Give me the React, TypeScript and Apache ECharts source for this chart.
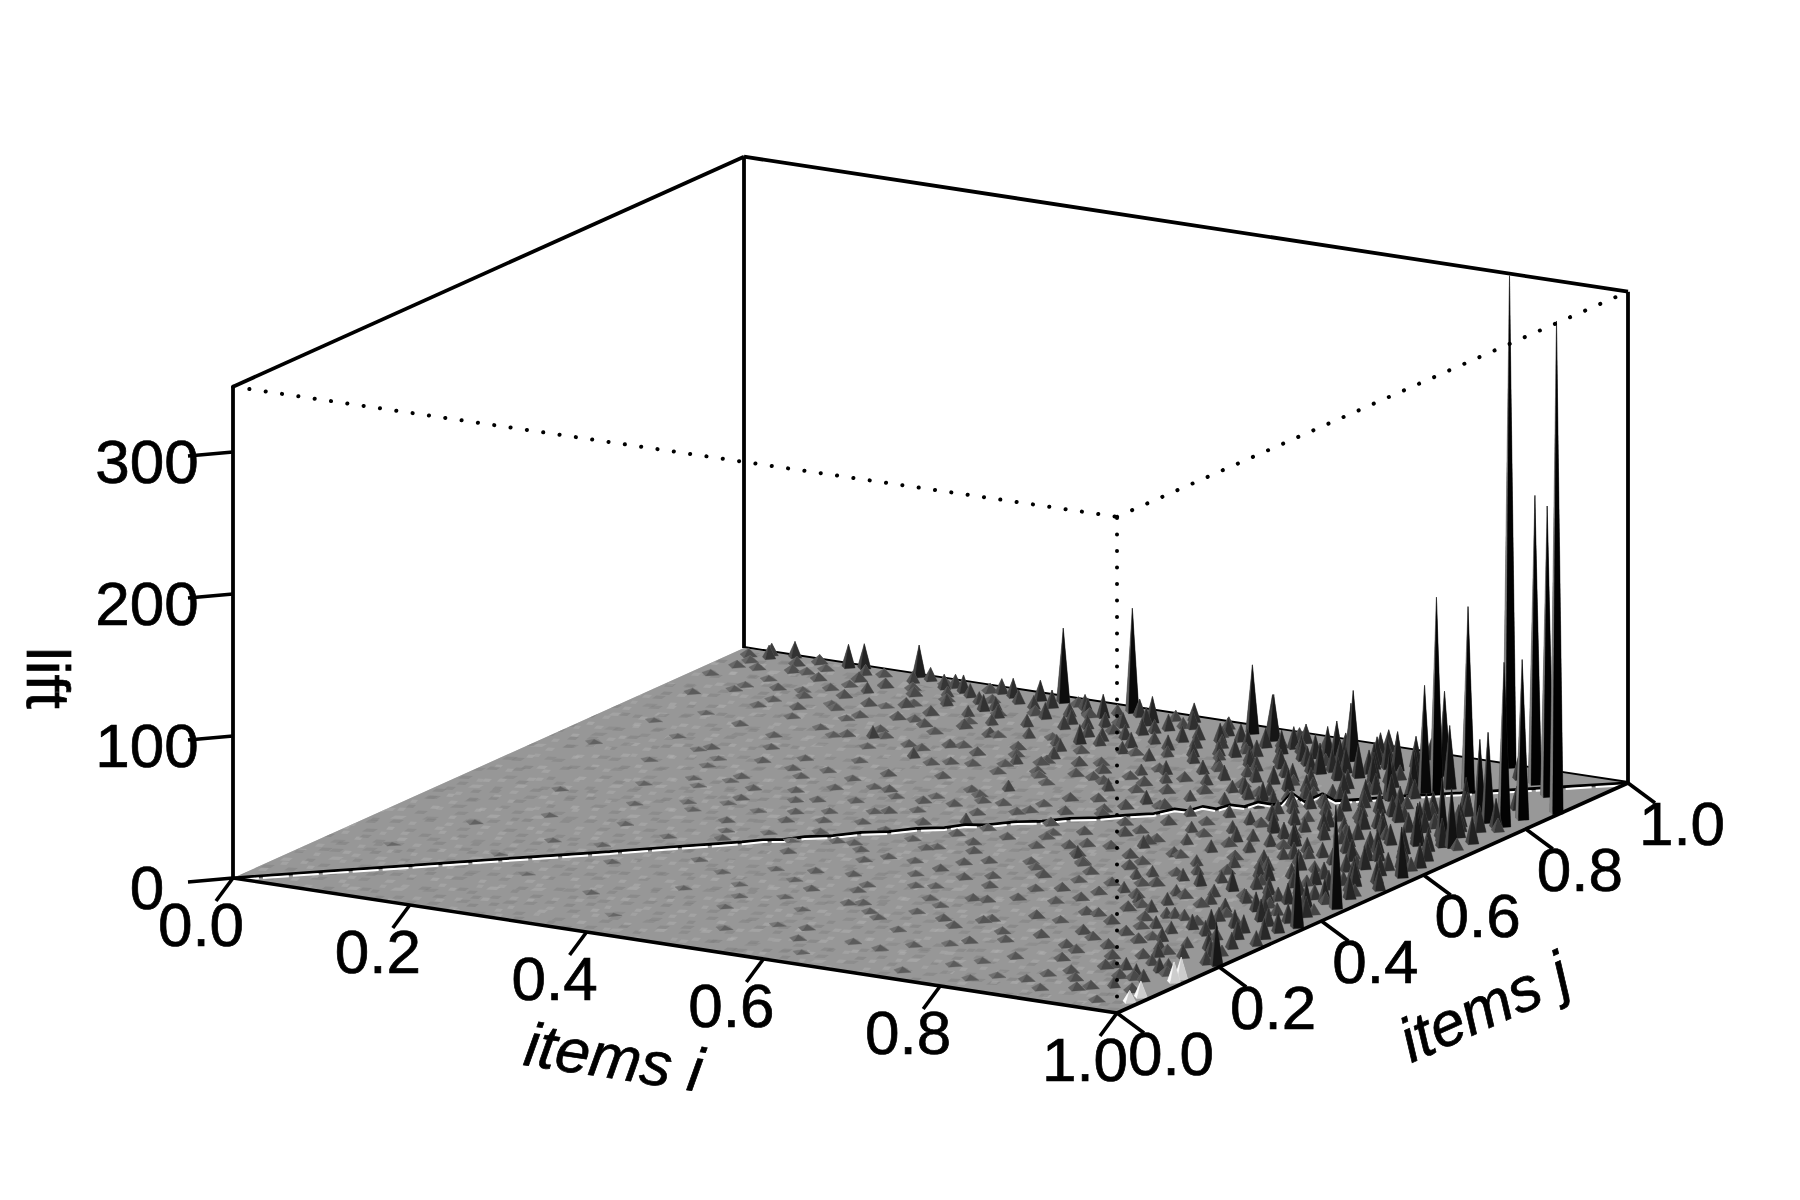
import React, { useEffect, useRef } from "react";
import * as echarts from "echarts";

type Row = number[];

const iTicks = [0, 0.2, 0.4, 0.6, 0.8, 1];
const jTicks = [0, 0.2, 0.4, 0.6, 0.8, 1];
const zTicks = [0, 100, 200, 300];
const zTop = 346;

// i, j, lift : tall spikes
const spikesTall: Row[] = [
  [.870,.993,346],[.996,.867,346],[.923,.951,203],[.956,.918,204],[.978,.831,112],[.976,.799,115],
  [.855,.876,137],[.878,.898,129],[.845,.870,75],[.830,.935,59],[.859,.895,44],[.955,.804,63],
  [.948,.800,58],[.971,.705,41],[.954,.716,45],[.448,.985,73],[.371,.983,52],[.589,.976,48],
  [.606,.986,27],[.725,.938,49],[.723,.937,40],[.991,.368,52],[.988,.449,72],[.985,.583,35],
  [.994,.205,30],[.779,.931,25],[.832,.871,27],[.938,.694,27],[.915,.828,14],
];

// i, j, lift : middle-sized cones
const spikesMid: Row[] = [
  [.983,.204,9],[.920,.323,13],[.975,.268,11],[.984,.316,14],[.984,.343,14],[.963,.360,12],[.919,.435,12],
  [.865,.512,11],[.924,.447,9],[.967,.428,20],[.974,.380,13],[.830,.457,11],[.806,.465,8],[.867,.456,14],
  [.789,.672,14],[.835,.634,15],[.711,.552,8],[.763,.448,7],[.821,.244,6],[.869,.340,7],[.862,.336,7],
  [.869,.210,6],[.917,.195,6],[.670,.494,6],[.620,.964,32],[.651,.926,16],[.682,.913,15],[.695,.900,13],
  [.699,.933,22],[.707,.937,26],[.721,.880,21],[.741,.896,18],[.761,.886,23],[.785,.873,19],[.769,.929,21],
  [.781,.928,27],[.815,.904,21],[.914,.832,23],[.935,.701,28],[.885,.719,16],[.849,.738,11],[.831,.697,13],
  [.826,.737,11],[.834,.633,15],[.793,.665,14],[.934,.626,14],[.695,.778,11],[.724,.763,13],[.747,.821,9],
  [.777,.808,9],[.641,.881,11],[.726,.809,15],[.701,.824,12],[.201,.995,22],[.124,.990,16],[.139,.995,17],
  [.040,.980,9],[.060,.996,11],[.092,.989,6],[.036,.992,8],[.268,.966,12],[.319,.975,13],[.348,.978,14],
  [.371,.961,12],[.416,.953,12],[.433,.954,16],[.484,.962,18],[.484,.950,12],[.319,.917,11],[.278,.916,8],
  [.207,.973,8],[.187,.918,7],[.344,.902,9],[.386,.922,11],[.459,.825,8],[.462,.858,13],[.440,.911,9],
  [.468,.797,8],[.446,.762,7],[.276,.775,8],[.348,.730,7],[.490,.670,7],[.574,.720,8],[.631,.696,9],
  [.516,.542,7],[.674,.487,8],[.555,.930,10],[.530,.962,12],[.640,.945,9],[.680,.965,11],[.755,.955,13],
  [.810,.960,15],[.900,.960,18],[.955,.860,16],[.965,.770,18],[.948,.762,14],[.930,.790,12],[.905,.735,13],
  [.975,.650,16],[.960,.600,12],[.945,.560,14],[.990,.530,15],[.968,.510,11],[.952,.470,10],[.990,.290,10],
  [.945,.290,8],[.935,.250,7],[.960,.170,7],[.900,.385,9],[.880,.610,10],[.905,.660,12],[.870,.665,9],
  [.850,.585,8],[.815,.620,9],[.760,.730,9],[.790,.770,10],[.745,.775,8],[.665,.835,8],[.610,.875,7],
  [.560,.860,7],[.525,.895,8],[.590,.915,9],[.505,.930,9],
];

// i, j, lift : second population of cones, denser toward the right of the surface
const cones: Row[] = [
  [.972,.232,11],[.951,.214,9],[.938,.176,7],[.905,.142,6],[.962,.118,8],[.948,.084,7],[.921,.058,5],[.884,.111,5],[.853,.147,5],[.892,.178,6],
  [.918,.226,8],[.884,.243,6],[.859,.262,6],[.826,.291,6],[.895,.288,8],[.928,.298,10],[.955,.326,12],[.912,.352,9],[.881,.338,7],[.848,.318,6],
  [.815,.342,6],[.787,.309,5],[.756,.352,5],[.722,.374,5],[.798,.388,6],[.838,.379,8],[.873,.403,8],[.941,.392,12],[.978,.408,14],[.958,.442,13],
  [.931,.476,12],[.901,.424,9],[.862,.429,8],[.828,.414,7],[.793,.436,6],[.754,.416,5],[.715,.442,5],[.681,.408,5],[.645,.446,4],[.608,.428,4],
  [.577,.452,4],[.692,.466,5],[.738,.478,6],[.772,.464,7],[.806,.493,7],[.842,.478,8],[.884,.474,10],[.912,.498,11],[.946,.508,13],[.981,.488,16],
  [.975,.552,15],[.956,.536,13],[.921,.542,11],[.893,.527,10],[.858,.541,9],[.824,.534,8],[.789,.521,7],[.752,.541,6],[.718,.514,6],[.684,.535,5],
  [.648,.516,5],[.612,.534,4],[.579,.514,4],[.546,.533,4],[.635,.568,5],[.672,.583,6],[.707,.568,6],[.741,.585,7],[.776,.572,8],[.808,.591,8],
  [.842,.561,9],[.873,.575,10],[.902,.592,11],[.927,.575,12],[.963,.579,14],[.982,.624,17],[.952,.642,15],[.924,.622,13],[.892,.636,12],[.858,.618,10],
  [.826,.648,9],[.791,.628,8],[.758,.645,8],[.722,.627,7],[.688,.641,6],[.652,.618,5],[.616,.636,5],[.581,.624,5],[.548,.639,4],[.512,.622,4],
  [.476,.638,4],[.585,.682,5],[.622,.671,6],[.654,.692,6],[.691,.678,7],[.726,.694,8],[.757,.681,9],[.817,.684,10],[.853,.699,11],[.876,.686,12],
  [.914,.684,14],[.958,.682,16],[.981,.728,19],[.943,.732,16],[.919,.742,15],[.872,.732,13],[.836,.762,11],[.804,.748,10],[.772,.739,10],[.733,.738,9],
  [.698,.733,8],[.662,.728,7],[.628,.742,6],[.594,.756,6],[.556,.742,5],[.519,.752,5],[.482,.741,5],[.448,.722,4],[.412,.735,4],[.375,.718,4],
  [.862,.778,14],[.902,.762,16],[.939,.778,16],[.971,.792,20],[.925,.816,16],[.892,.806,15],[.851,.812,14],[.822,.792,12],[.791,.798,11],[.756,.792,10],
  [.718,.786,9],[.682,.776,8],[.646,.788,8],[.608,.774,7],[.572,.788,7],[.536,.776,6],[.502,.788,6],[.468,.772,5],[.432,.786,5],[.396,.772,5],
  [.358,.784,5],[.322,.766,4],[.286,.782,4],[.251,.768,4],[.215,.778,3],[.842,.848,16],[.806,.842,14],[.772,.846,13],[.735,.838,12],[.698,.852,11],
  [.662,.858,10],[.628,.842,9],[.594,.852,9],[.552,.838,8],[.516,.848,8],[.482,.862,8],[.445,.842,7],[.408,.852,7],[.372,.838,6],[.335,.852,6],
  [.298,.838,5],[.262,.848,5],[.226,.836,4],[.192,.848,4],[.158,.832,4],[.122,.846,3],[.798,.882,15],[.762,.905,16],[.728,.892,15],[.668,.892,11],
  [.635,.905,11],[.602,.888,10],[.568,.902,10],[.492,.895,10],[.456,.885,9],[.421,.898,9],[.385,.888,8],[.352,.876,7],[.316,.892,7],[.282,.878,6],
  [.246,.892,6],[.212,.878,5],[.176,.892,5],[.142,.872,4],[.105,.885,4],[.072,.878,3],[.792,.945,22],[.758,.922,18],[.742,.962,17],[.705,.958,14],
  [.668,.935,13],[.626,.938,13],[.594,.945,12],[.512,.945,11],[.468,.932,10],[.402,.942,9],[.358,.948,9],[.302,.938,8],[.262,.945,7],[.232,.932,6],
  [.192,.945,6],[.158,.952,6],[.122,.935,5],[.085,.948,5],[.028,.938,4],[.018,.978,5],[.076,.972,6],[.152,.975,7],[.218,.988,9],[.252,.978,9],
  [.302,.982,10],[.335,.958,9],[.402,.972,10],[.462,.975,12],[.518,.985,13],[.572,.958,12],[.652,.972,13],[.698,.978,14],[.738,.985,15],[.788,.982,14],
  [.548,.612,4],[.508,.578,4],[.472,.595,4],[.442,.612,3],[.408,.592,3],[.372,.612,3],[.338,.628,3],[.302,.642,3],[.268,.632,3],[.228,.642,3],
  [.186,.628,2],[.152,.648,2],[.452,.558,3],[.418,.532,3],[.382,.558,3],[.348,.542,3],[.312,.562,3],[.272,.548,3],[.238,.562,2],[.202,.552,2],
  [.538,.448,3],[.502,.462,3],[.462,.478,3],[.428,.492,3],[.392,.478,3],[.352,.492,3],[.318,.478,2],[.278,.488,2],[.242,.472,2],[.515,.392,3],
  [.478,.402,3],[.442,.418,3],[.402,.398,2],[.368,.412,2],[.328,.398,2],[.655,.348,4],[.618,.362,4],[.582,.378,4],[.545,.392,3],[.702,.322,4],
  [.665,.298,4],[.628,.278,3],[.592,.312,3],[.552,.268,3],[.518,.318,3],[.478,.272,2],[.442,.298,2],[.402,.262,2],[.752,.272,5],[.715,.232,4],
  [.678,.218,4],[.642,.228,3],[.602,.205,3],[.568,.222,3],[.502,.212,2],[.462,.192,2],[.832,.192,5],[.792,.212,5],[.752,.205,4],[.742,.158,4],
  [.702,.118,3],[.645,.098,3],[.592,.082,3],[.548,.118,2],[.772,.075,3],[.812,.038,3],[.862,.062,4],[.902,.088,5],[.935,.118,6],[.972,.078,6],
];

// i, j, lift : the darker cones packed in the right-hand part of the surface
const conesDark: Row[] = [
  [.962,.302,13],[.938,.338,12],[.905,.312,10],[.948,.372,15],[.925,.402,13],[.968,.462,17],[.938,.442,14],[.905,.462,12],[.878,.508,13],[.925,.518,14],
  [.962,.532,17],[.938,.592,16],[.912,.612,15],[.885,.558,12],[.858,.592,11],[.968,.612,18],[.942,.662,18],[.918,.652,16],[.882,.658,14],[.848,.668,12],
  [.812,.652,11],[.778,.618,10],[.962,.702,20],[.928,.712,18],[.895,.702,15],[.862,.722,14],[.828,.712,13],[.795,.702,12],[.768,.705,11],[.958,.742,20],
  [.898,.782,18],[.878,.762,16],[.845,.782,15],[.812,.772,14],[.778,.762,12],[.742,.752,11],[.708,.762,10],[.832,.828,18],[.812,.812,15],[.778,.828,14],
  [.745,.812,12],[.712,.842,12],[.682,.822,11],[.652,.812,10],[.622,.822,9],[.592,.802,9],[.808,.872,17],[.775,.892,18],[.748,.868,16],[.712,.878,14],
  [.678,.878,13],[.648,.868,12],[.618,.892,12],[.582,.872,11],[.548,.882,10],[.512,.872,10],[.476,.878,9],[.752,.938,19],[.722,.918,17],[.688,.928,16],
  [.652,.948,15],[.615,.922,14],[.578,.932,13],[.545,.915,11],[.498,.918,11],[.452,.925,10],[.418,.918,10],[.328,.925,9],[.282,.955,9],[.245,.968,10],
  [.948,.128,9],[.958,.156,10],[.925,.148,8],[.928,.205,9],[.958,.252,12],[.902,.258,9],[.872,.298,8],[.838,.348,8],[.812,.368,8],[.778,.398,7],
];

// i, j, lift : low bumps scattered over the surface
const bumps: Row[] = [
  [.62,.04,2],[.74,.03,3],[.83,.06,3],[.89,.04,4],[.93,.07,5],[.96,.03,4],[.51,.08,2],[.68,.09,3],[.79,.10,3],[.87,.09,4],
  [.33,.13,2],[.47,.15,2],[.58,.12,3],[.66,.16,3],[.73,.14,3],[.81,.13,4],[.85,.18,5],[.91,.15,5],[.95,.12,6],[.40,.19,2],
  [.54,.18,2],[.62,.19,3],[.70,.20,4],[.77,.18,4],[.29,.24,2],[.44,.23,2],[.51,.25,3],[.58,.23,3],[.65,.26,3],[.72,.24,4],
  [.78,.27,4],[.84,.23,5],[.89,.26,5],[.93,.22,6],[.36,.29,2],[.48,.31,3],[.55,.29,3],[.61,.32,3],[.68,.30,4],[.74,.33,4],
  [.80,.31,5],[.86,.29,5],[.90,.33,6],[.94,.34,7],[.42,.36,3],[.50,.37,3],[.57,.35,3],[.64,.38,4],[.70,.36,4],[.76,.38,5],
  [.82,.36,5],[.87,.39,6],[.91,.37,6],[.95,.40,8],[.46,.42,3],[.53,.44,3],[.59,.41,4],[.66,.43,4],[.72,.41,4],[.78,.43,5],
  [.84,.41,6],[.89,.44,6],[.93,.42,7],[.97,.46,8],[.56,.48,4],[.62,.50,4],[.69,.47,5],[.74,.50,5],[.79,.48,5],[.83,.51,6],
  [.88,.49,7],[.92,.51,7],[.95,.53,9],[.61,.55,4],[.66,.53,5],[.71,.58,5],[.76,.54,5],[.81,.56,6],[.85,.54,7],[.90,.56,7],
  [.93,.59,9],[.68,.60,5],[.74,.62,5],[.78,.60,6],[.83,.62,6],[.87,.60,8],[.91,.62,8],[.96,.63,10],[.72,.66,5],[.77,.68,6],
  [.82,.66,7],[.86,.69,8],[.90,.70,9],[.80,.72,7],[.84,.75,8],[.88,.77,10],[.92,.76,10],[.86,.81,9],[.90,.79,11],[.80,.84,8],
  [.76,.80,7],[.72,.83,7],[.68,.80,6],[.63,.84,6],[.58,.81,5],[.53,.85,5],[.48,.83,5],[.43,.86,4],[.38,.84,4],[.33,.87,4],
  [.28,.85,4],[.23,.88,3],[.18,.86,3],[.13,.89,3],[.08,.91,3],[.05,.94,4],[.10,.95,4],[.16,.93,4],[.22,.95,5],[.27,.93,5],
  [.31,.95,5],[.37,.93,6],[.42,.95,6],[.47,.91,6],[.52,.96,7],[.57,.95,7],[.62,.91,7],[.66,.95,8],[.71,.91,8],[.75,.87,8],
  [.46,.94,6],[.34,.91,5],[.25,.90,4],[.15,.91,4],[.07,.86,3],[.12,.82,3],[.17,.80,3],[.22,.82,3],[.27,.80,4],[.32,.82,4],
  [.37,.79,4],[.42,.81,5],[.47,.78,5],[.52,.80,5],[.57,.77,5],[.62,.79,6],[.66,.76,6],[.71,.78,6],[.60,.73,5],[.54,.75,5],
  [.49,.73,4],[.44,.75,4],[.39,.73,4],[.34,.76,4],[.29,.74,3],[.24,.76,3],[.19,.73,3],[.14,.75,3],[.09,.77,2],[.11,.68,2],
  [.16,.66,3],[.21,.69,3],[.26,.67,3],[.31,.69,3],[.36,.66,4],[.41,.68,4],[.46,.65,4],[.51,.71,4],[.56,.67,5],[.61,.65,5],
  [.65,.69,5],[.13,.59,2],[.19,.60,2],[.24,.58,3],[.29,.61,3],[.34,.59,3],[.39,.61,4],[.44,.59,4],[.49,.62,4],[.54,.60,4],
  [.59,.58,5],[.17,.51,2],[.22,.53,2],[.28,.51,3],[.33,.53,3],[.38,.51,3],[.43,.54,4],[.48,.52,4],[.53,.50,4],[.11,.45,2],
  [.20,.44,2],[.26,.45,2],[.31,.43,3],[.36,.46,3],[.41,.44,3],[.15,.36,2],[.23,.37,2],[.29,.35,2],[.34,.37,3],[.20,.28,2],
  [.25,.29,2],[.10,.30,2],[.07,.19,1],[.18,.21,1],[.24,.16,1],[.39,.07,1],[.05,.62,2],[.06,.72,2],[.04,.83,3],[.02,.90,3],
  [.03,.96,4],[.11,.97,4],[.17,.98,5],[.24,.98,5],[.29,.98,6],[.39,.98,6],[.44,.97,7],[.50,.98,7],[.56,.98,8],[.64,.98,8],
  [.70,.98,9],[.74,.96,9],[.80,.90,10],[.98,.78,9],[.98,.70,8],[.98,.61,9],[.98,.50,8],[.98,.42,7],[.98,.24,7],[.97,.15,6],
];

// i, j, lift : light-coloured cones near the front corner
const litSpikes: Row[] = [[.990,.129,14],[.990,.143,15],[.990,.064,11],[.990,.042,8]];

// t (i = j = t), lift : the diagonal ridge
const ridge: Row[] = [
  [0,0],[.07,.3],[.13,.2],[.2,.5],[.27,.4],[.33,.8],[.365,.9],[.38,1.4],[.395,.7],[.41,1.6],[.43,1],[.45,1.9],[.47,1.2],[.49,2],
  [.51,1.3],[.525,2.3],[.54,1.2],[.56,2],[.58,1.1],[.60,1.8],[.62,1],[.64,1.4],[.66,1.1],[.675,3.4],[.685,1.6],[.695,3.8],[.705,1.4],
  [.715,3.6],[.725,1.7],[.735,4.2],[.745,1.8],[.752,2.2],[.759,9],[.768,2],[.781,7],[.79,1.4],[.815,1.2],[.829,1.5],[.847,1.4],[.88,.9],[.93,.6],[1,0],
];
// t, lift : wide dark cones standing on the ridge
const ridgeCones: Row[] = [[.759,.759,11],[.781,.781,7],[.829,.829,32],[.847,.847,13]];

// x, y, width, grey : strokes of the surface's fine grain tiles
const grainStrokes: Row[] = [
  [4,5,14,128],[26,3,9,176],[44,8,17,134],[72,4,10,172],[92,9,15,128],[118,5,11,174],[10,15,10,176],[30,14,18,128],[58,17,9,174],[78,15,13,132],
  [104,17,12,172],[126,14,10,128],[2,26,17,132],[28,25,9,174],[46,28,12,128],[66,24,15,176],[90,27,10,128],[110,25,17,172],[14,36,11,172],[36,37,15,130],
  [60,35,11,174],[82,38,16,128],[106,36,9,176],[124,38,13,132],[6,47,15,128],[30,46,10,176],[50,49,16,132],[74,46,9,174],[92,49,14,128],[116,47,12,174],
  [16,58,11,176],[38,57,15,128],[62,60,10,174],[82,57,16,132],[106,59,11,172],[126,58,10,128],[0,67,13,174],[24,68,12,130],[48,66,16,172],[72,68,11,128],[94,66,14,174],[118,68,13,130],
];
const grainStrokesFine: Row[] = [
  [3,3,12,122],[22,6,8,178],[38,2,15,126],[60,7,10,176],[78,4,13,120],[9,14,9,178],[26,17,14,124],[48,13,8,174],[66,18,15,126],[86,15,9,178],
  [1,26,15,124],[20,28,9,176],[36,25,13,120],[56,29,10,178],[74,26,14,124],[12,38,10,176],[30,40,14,122],[50,37,9,178],[68,41,13,124],[88,38,8,174],
  [4,49,13,126],[24,50,10,176],[44,48,15,122],[66,51,9,176],[82,49,12,124],
];

const grainBoundary: Row[] = [
  [0,0],[1,0],[.97,.1],[.93,.3],[.87,.6],[.85,.72],[.72,.87],[.6,.9],[.3,.95],[.1,.995],[0,1],
];

const FONT = '"Liberation Sans", Arial, sans-serif';

const project = (i: number, j: number, z: number) => [
  233 + 884 * i + 511 * j,
  878 + 135 * i - 230 * j - 1.42 * z * (1 + 0.01 * i * (1 - j)),
];
const depth = (r: Row) => 135 * r[0] - 230 * r[1];
const HALF = 0.0075;

const heightStops = [0, 6, 12, 20, 35, 70, 150, 600];
const frontStops = [108, 84, 58, 40, 26, 14, 3, 0];
const leftStops = [132, 104, 84, 72, 66, 75, 120, 130];
const rearStops = [142, 128, 114, 100, 86, 70, 60, 60];
const ramp = (stops: number[], h: number) => {
  for (let k = 1; k < heightStops.length; k++) {
    if (h <= heightStops[k]) {
      const f = (h - heightStops[k - 1]) / (heightStops[k] - heightStops[k - 1]);
      return Math.round(stops[k - 1] + (stops[k] - stops[k - 1]) * f);
    }
  }
  return stops[stops.length - 1];
};
const grey = (g: number) => `rgb(${g},${g},${g})`;

const makeGrain = (strokes: Row[], w: number, h: number, back: string | null) => {
  const c = document.createElement("canvas");
  c.width = w;
  c.height = h;
  const g = c.getContext("2d");
  if (!g) return "";
  if (back) {
    g.fillStyle = back;
    g.fillRect(0, 0, w, h);
  }
  strokes.forEach(([x, y, l, s]) => {
    g.fillStyle = grey(s);
    g.beginPath();
    g.moveTo(x, y + 1.5);
    g.lineTo(x + l * 0.3, y - 1.5);
    g.lineTo(x + l, y - 1);
    g.lineTo(x + l * 0.7, y + 2);
    g.closePath();
    g.fill();
  });
  return c.toDataURL();
};

export default function App() {
  const ref = useRef<HTMLDivElement>(null);
  useEffect(() => {
    if (!ref.current) return;
    const chart = echarts.init(ref.current, undefined, { renderer: "svg" });
    const grain = makeGrain(grainStrokes, 140, 72, "rgb(150,150,150)");
    const grainFine = makeGrain(grainStrokesFine, 97, 53, null);
    const pts = (api: any, list: number[][]) => list.map((p) => api.coord(p));

    const custom = (z: number, data: any[], renderItem: any) => ({
      type: "custom", coordinateSystem: "cartesian2d", clip: false, silent: true, z, data, renderItem,
    });

    const edge = (style: any) => (_: any, api: any) => {
      const [a, b] = [
        api.coord(project(api.value(0), api.value(1), api.value(2))),
        api.coord(project(api.value(3), api.value(4), api.value(5))),
      ];
      return { type: "line", shape: { x1: a[0], y1: a[1], x2: b[0], y2: b[1] }, style };
    };

    const spike = (lit: boolean) => (_: any, api: any) => {
      const i = api.value(0), j = api.value(1), z = api.value(2);
      const h = z * 1.42;
      const half = z < 7 ? HALF * 1.3 : HALF;
      const top = api.coord(project(i, j, z));
      const p1 = api.coord(project(i - half, j, 0));
      const p2 = api.coord(project(i, j - half, 0));
      const p3 = api.coord(project(i + half, j, 0));
      const p4 = api.coord(project(i, j + half, 0));
      const face = (a: number[], b: number[], g: number) => {
        const fill = grey(g);
        return { type: "polygon", shape: { points: [a, b, top] }, style: { fill, stroke: fill, lineWidth: 0.3 } };
      };
      const f = lit ? 205 : ramp(frontStops, h);
      const l = lit ? 250 : ramp(leftStops, h);
      const r = lit ? 240 : ramp(rearStops, h);
      return {
        type: "group",
        children: [face(p3, p4, r), face(p4, p1, r), face(p1, p2, l), face(p2, p3, f)],
      };
    };

    const tagged = [
      ...spikesTall, ...spikesMid, ...cones, ...conesDark, ...bumps, ...ridgeCones,
    ].map((r) => ({ r, lit: 0 }));
    const all = [...tagged, ...litSpikes.map((r) => ({ r, lit: 1 }))];
    const rear = all.filter((a) => a.r[1] > a.r[0]).sort((a, b) => depth(a.r) - depth(b.r));
    const front = all.filter((a) => a.r[1] <= a.r[0]).sort((a, b) => depth(a.r) - depth(b.r));
    const spikeSeries = (zz: number, rows: typeof all) => {
      const base = spike(false), bright = spike(true);
      return custom(zz, rows.map((a) => [a.r[0], a.r[1], a.r[2], a.lit]), (p: any, api: any) =>
        api.value(3) ? bright(p, api) : base(p, api));
    };

    const label = (text: string, x: number, y: number, extra: any = {}) => ({
      type: "text", x, y, rotation: extra.rotation || 0,
      style: {
        text, fill: "#000", stroke: "#000", lineWidth: 0.7, font: `${extra.italic ? "italic " : ""}62px ${FONT}`,
        align: "center", verticalAlign: "middle",
      },
    });

    const tickSeries = (z: number, ticks: number[], at: (t: number) => number[], d: number[], off: number[], fmt: (t: number) => string) =>
      custom(z, ticks.map((t) => [t]), (_: any, api: any) => {
        const t = api.value(0);
        const a = api.coord(at(t));
        return {
          type: "group",
          children: [
            { type: "line", shape: { x1: a[0], y1: a[1], x2: a[0] + d[0], y2: a[1] + d[1] }, style: { stroke: "#000", lineWidth: 3.6 } },
            label(fmt(t), a[0] + off[0], a[1] + off[1]),
          ],
        };
      });

    const ridgePts = ridge.map(([t, z]) => project(t, t, z));

    const option: any = {
      animation: false,
      backgroundColor: "#fff",
      tooltip: { show: false },
      grid: { left: 0, right: 0, top: 0, bottom: 0 },
      xAxis: { type: "value", min: 0, max: 1800, show: false },
      yAxis: { type: "value", min: 0, max: 1200, inverse: true, show: false },
      series: [
        custom(1, [[0,0,0,0,0,zTop],[0,1,0,0,1,zTop],[1,1,0,1,1,zTop],[0,0,zTop,0,1,zTop],[0,1,zTop,1,1,zTop],[0,1,0,1,1,0]],
          edge({ stroke: "#000", lineWidth: 3.8 })),
        custom(2, [[0]], (_: any, api: any) => ({
          type: "group",
          children: [
            { type: "polygon", shape: { points: pts(api, [[0,0],[1,0],[1,1],[0,1]].map(([i, j]) => project(i, j, 0))) }, style: { fill: "#989898" } },
            { type: "polygon", shape: { points: pts(api, grainBoundary.map(([i, j]) => project(i, j, 0))) },
              style: { fill: { image: grain, repeat: "repeat", imageWidth: 140, imageHeight: 72 }, opacity: 0.55 } },
            { type: "polygon", shape: { points: pts(api, grainBoundary.map(([i, j]) => project(i, j, 0))) },
              style: { fill: { image: grainFine, repeat: "repeat", imageWidth: 97, imageHeight: 53 }, opacity: 0.45 } },
          ],
        })),
        spikeSeries(3, rear),
        { type: "line", z: 4, silent: true, showSymbol: false, data: ridgePts, lineStyle: { color: "#000", width: 3 } },
        { type: "line", z: 4, silent: true, showSymbol: false, data: ridgePts.map(([x, y]) => [x, y + 2.2]),
          lineStyle: { color: "#fff", width: 2, type: [26, 4] } },
        spikeSeries(5, front),
        custom(6, [[0,0,0,1,0,0],[1,0,0,1,1,0]], edge({ stroke: "#000", lineWidth: 3.6 })),
        custom(6, [[0,0,zTop,1,0,zTop],[1,0,zTop,1,1,zTop],[1,0,0,1,0,zTop]],
          edge({ stroke: "#000", lineWidth: 4, lineDash: [0.1, 16.4], lineCap: "round" })),
        tickSeries(7, iTicks, (t) => project(t, 0, 0), [-17, 23], [-32, 46], (t) => t.toFixed(1)),
        tickSeries(7, jTicks, (t) => project(1, t, 0), [27, 20], [54, 40], (t) => t.toFixed(1)),
        tickSeries(7, zTicks, (t) => project(0, 0, t), [-45, 4], [-86, 9], (t) => String(t)),
        custom(8, [[0]], () => ({
          type: "group",
          children: [
            label("items i", 614, 1057, { italic: true, rotation: -8.7 * Math.PI / 180 }),
            label("items j", 1484, 1007, { italic: true, rotation: 24.2 * Math.PI / 180 }),
            label("lift", 48, 678, { rotation: -Math.PI / 2 }),
          ],
        })),
      ],
    };
    chart.setOption(option);
    return () => chart.dispose();
  }, []);
  return <div ref={ref} style={{ position: "absolute", left: 0, top: 0, width: 1800, height: 1200 }} />;
}
